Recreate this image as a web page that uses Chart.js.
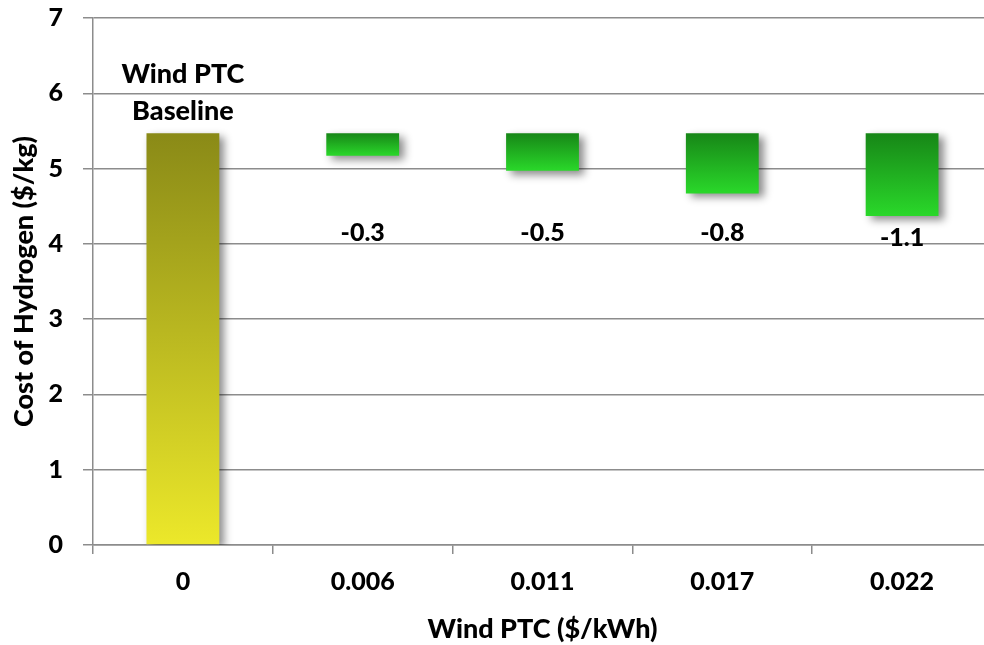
<!DOCTYPE html>
<html>
<head>
<meta charset="utf-8">
<script src="https://cdn.jsdelivr.net/npm/chart.js@4"></script>
<style>
  html, body { margin: 0; padding: 0; background: #fff; overflow: hidden; width: 984px; height: 645px; }
  #wrap { width: 1000px; height: 645px; }
</style>
</head>
<body>
<div id="wrap"><canvas id="c" width="1000" height="645"></canvas></div>
<script>
// Wind production tax credit levels ($/kWh)
const ptcLabels = ['0', '0.006', '0.011', '0.017', '0.022'];
// Hydrogen cost with no wind PTC ($/kg)
const baselineCost = 5.47;
// Change in hydrogen cost relative to the baseline ($/kg)
const costChange = [null, -0.3, -0.5, -0.8, -1.1];
const baselineText = ['Wind PTC', 'Baseline'];

// floating bars: baseline from zero, each PTC case hanging down from the baseline
const barData = costChange.map(d => d === null ? [0, baselineCost] : [baselineCost + d, baselineCost]);

const FONT = 'Lato, "Open Sans", sans-serif';
const WEIGHT = '900';
const GRID = '#8c8c8c';

function barFill(ctx) {
  const chart = ctx.chart;
  const area = chart.chartArea;
  const isBase = ctx.dataIndex === 0;
  if (!area || !ctx.raw) return isBase ? '#c8c020' : '#22b822';
  const y = chart.scales.y;
  const top = y.getPixelForValue(Math.max(ctx.raw[0], ctx.raw[1]));
  const bottom = y.getPixelForValue(Math.min(ctx.raw[0], ctx.raw[1]));
  const g = chart.ctx.createLinearGradient(0, top, 0, bottom);
  if (isBase) {
    g.addColorStop(0, '#8a8a17');
    g.addColorStop(1, '#ece82a');
  } else {
    g.addColorStop(0, '#178617');
    g.addColorStop(1, '#2ad82a');
  }
  return g;
}

const barShadow = {
  id: 'barShadow',
  beforeDatasetsDraw(chart) {
    const c = chart.ctx;
    c.save();
    c.shadowColor = 'rgba(0,0,0,0.45)';
    c.shadowBlur = 8;
    c.shadowOffsetX = 5;
    c.shadowOffsetY = 4;
  },
  afterDatasetsDraw(chart) {
    chart.ctx.restore();
  }
};

const valueLabels = {
  id: 'valueLabels',
  afterDraw(chart) {
    const c = chart.ctx;
    const meta = chart.getDatasetMeta(0);
    const y = chart.scales.y;
    c.save();
    c.fillStyle = '#000';
    c.textAlign = 'center';
    c.textBaseline = 'middle';
    meta.data.forEach((bar, i) => {
      if (costChange[i] === null) {
        const top = y.getPixelForValue(baselineCost);
        c.font = WEIGHT + ' 27px ' + FONT;
        c.fillText(baselineText[1], bar.x, top - 22);
        c.fillText(baselineText[0], bar.x, top - 59);
      } else {
        c.font = WEIGHT + ' 25px ' + FONT;
        const ly = y.getPixelForValue(i === 4 ? 4.08 : 4.15);
        c.fillText(costChange[i].toFixed(1), bar.x, ly);
      }
    });
    c.restore();
  }
};

new Chart(document.getElementById('c'), {
  type: 'bar',
  data: {
    labels: ptcLabels,
    datasets: [{
      data: barData,
      backgroundColor: barFill,
      borderWidth: 0,
      barPercentage: 0.405,
      categoryPercentage: 1.0
    }]
  },
  options: {
    responsive: false,
    animation: false,
    devicePixelRatio: 1,
    layout: { padding: { top: 18, right: 8, left: 0, bottom: 0 } },
    plugins: { legend: { display: false }, tooltip: { enabled: false } },
    scales: {
      x: {
        offset: true,
        grid: { offset: true, drawOnChartArea: false, drawTicks: true, tickLength: 9, color: GRID, lineWidth: 1.5 },
        border: { display: true, color: GRID, width: 1.5 },
        ticks: { color: '#000', font: { family: FONT, size: 25, weight: WEIGHT }, padding: 13, maxRotation: 0 },
        title: { display: true, text: 'Wind PTC ($/kWh)', color: '#000', font: { family: FONT, size: 27, weight: WEIGHT }, padding: { top: 0, bottom: 0 } },
        afterFit(s) { s.height = 100; s.paddingLeft = 0; s.paddingRight = 0; }
      },
      y: {
        min: 0, max: 7,
        ticks: { stepSize: 1, color: '#000', font: { family: FONT, size: 25, weight: WEIGHT }, padding: 20 },
        grid: { color: GRID, lineWidth: 1.5, tickLength: 10 },
        border: { display: true, color: GRID, width: 1.5 },
        title: { display: true, text: 'Cost of Hydrogen ($/kg)', color: '#000', font: { family: FONT, size: 27, weight: WEIGHT }, padding: { top: 8, bottom: 0 } },
        afterFit(s) { s.width = 93; s.paddingTop = 0; s.paddingBottom = 0; }
      }
    }
  },
  plugins: [barShadow, valueLabels]
});
</script>
</body>
</html>
